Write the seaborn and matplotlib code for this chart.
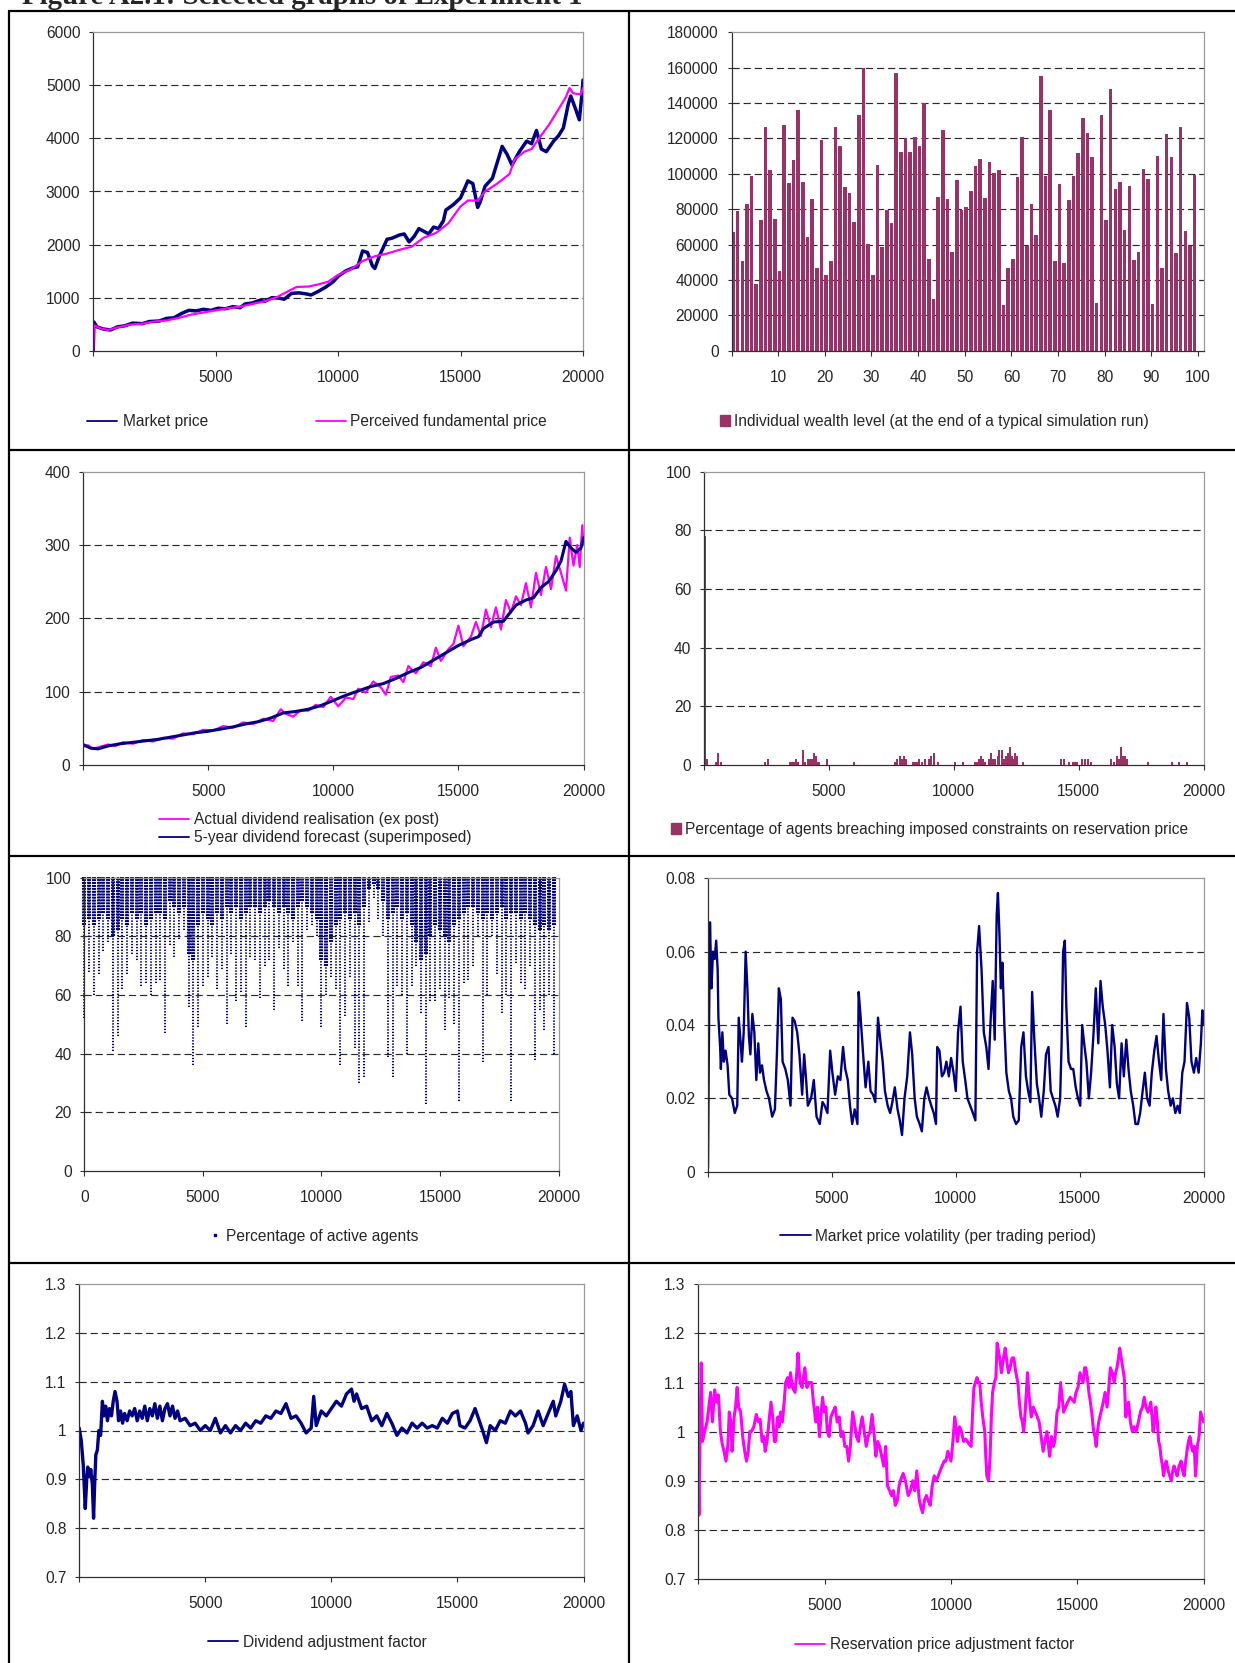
import matplotlib
matplotlib.use("Agg")
import matplotlib.pyplot as plt
from matplotlib.lines import Line2D
from matplotlib.patches import Patch
import seaborn as sns

# ---------------------------------------------------------------- data
# Market price vs perceived fundamental price
price_t = [0, 30, 150, 400, 700, 1000, 1300, 1600, 2000, 2300, 2700, 3000, 3300, 3600,
           3900, 4200, 4500, 4800, 5100, 5400, 5700, 6000, 6200, 6500, 6800, 7000, 7300,
           7600, 7800, 8100, 8400, 8700, 8900, 9200, 9500, 9800, 10000, 10300, 10600,
           10800, 11000, 11200, 11400, 11500, 11700, 12000, 12200, 12500, 12700, 12900,
           13100, 13300, 13500, 13700, 13900, 14100, 14300, 14400, 14700, 15000, 15300,
           15500, 15700, 15800, 16000, 16300, 16500, 16700, 16900, 17100, 17400, 17700,
           17900, 18100, 18300, 18500, 18800, 19000, 19200, 19400, 19500, 19700, 19850,
           19950, 20000]
market_price = [0, 540, 450, 410, 390, 450, 470, 520, 510, 550, 560, 610, 620, 700,
                760, 750, 780, 760, 800, 790, 830, 810, 880, 900, 950, 930, 1000,
                990, 970, 1080, 1090, 1070, 1050, 1120, 1200, 1300, 1400, 1500, 1560,
                1580, 1880, 1850, 1600, 1550, 1800, 2100, 2120, 2180, 2200, 2050,
                2150, 2300, 2250, 2200, 2330, 2300, 2450, 2650, 2750, 2880, 3200,
                3150, 2700, 2800, 3100, 3250, 3550, 3850, 3700, 3500, 3750, 3950,
                3900, 4150, 3800, 3750, 3950, 4050, 4200, 4650, 4800, 4550, 4350,
                4800, 5100]
fund_t = [0, 30, 300, 600, 1000, 1500, 2000, 2500, 3000, 3500, 4000, 4500, 5000, 5500,
          6000, 6500, 7000, 7500, 8000, 8300, 8800, 9200, 9600, 10000, 10500, 11000,
          11500, 12000, 12500, 13000, 13500, 14000, 14500, 15000, 15300, 15700, 16000,
          16500, 17000, 17200, 17600, 17900, 18200, 18600, 19000, 19300, 19450, 19600,
          19900, 20000]
fundamental_price = [0, 480, 420, 390, 440, 490, 510, 550, 570, 620, 680, 720, 760, 800,
                     830, 880, 930, 1010, 1130, 1200, 1210, 1250, 1300, 1430, 1530, 1690,
                     1780, 1830, 1900, 1960, 2130, 2220, 2400, 2720, 2830, 2830, 3000,
                     3150, 3330, 3600, 3750, 3800, 4000, 4250, 4550, 4780, 4950, 4850,
                     4830, 4950]

# Individual wealth of agents 1..100
agent_ids = list(range(1, 101))
wealth = [67000, 79000, 50500, 83000, 99000, 37500, 74000, 126500, 102000, 74500,
          45000, 127500, 95000, 108000, 136000, 95500, 64000, 85500, 46500, 119000,
          43000, 50500, 126500, 116000, 92500, 89000, 72500, 133000, 160000, 60500,
          43000, 105000, 58500, 79500, 72000, 157000, 112500, 120000, 112500, 121000,
          115500, 140000, 52000, 29500, 87000, 125000, 85500, 56000, 96500, 79500,
          81500, 90000, 104500, 108500, 86500, 106500, 100500, 102000, 26000, 46500,
          52000, 98000, 121000, 59000, 83000, 65500, 155500, 99000, 136000, 50500,
          94500, 49500, 85000, 99000, 111500, 131500, 123000, 109500, 27000, 133000,
          74000, 148000, 91500, 95500, 68000, 93000, 51000, 56000, 103000, 97000,
          26500, 110000, 47000, 122500, 109500, 55000, 126500, 67500, 59000, 99500]

# Dividends: realisation and 5-year forecast
div_act_t = [0, 200, 400, 700, 1000, 1300, 1600, 2000, 2400, 2800, 3200, 3600, 4000,
             4400, 4800, 5200, 5600, 6000, 6400, 6800, 7200, 7600, 7900, 8100, 8400,
             8700, 9000, 9300, 9600, 9900, 10200, 10500, 10800, 11000, 11300, 11600,
             11900, 12100, 12300, 12600, 12800, 13000, 13300, 13600, 13900, 14100,
             14300, 14600, 14800, 15000, 15200, 15500, 15700, 15900, 16100, 16300,
             16500, 16700, 16900, 17100, 17300, 17500, 17700, 17900, 18100, 18300,
             18500, 18700, 18900, 19100, 19300, 19450, 19600, 19750, 19850, 19950, 20000]
div_actual = [25, 27, 22, 25, 28, 26, 31, 29, 34, 32, 37, 36, 43,
              42, 48, 47, 53, 51, 58, 56, 63, 60, 76, 70, 66,
              75, 74, 82, 79, 93, 80, 92, 90, 104, 99, 114,
              106, 96, 120, 122, 113, 135, 125, 140, 135, 160,
              142, 158, 165, 190, 162, 175, 195, 176, 212, 188,
              215, 185, 225, 208, 230, 218, 248, 215, 262, 232,
              270, 240, 285, 262, 238, 310, 272, 300, 270, 327, 300]
div_fc_t = [0, 300, 600, 1000, 1500, 2000, 2500, 3000, 3500, 4000, 4500, 5000, 5500,
            6000, 6500, 7000, 7500, 8000, 8500, 9000, 9500, 10000, 10500, 11000, 11500,
            12000, 12500, 13000, 13500, 14000, 14500, 15000, 15500, 15800, 16000, 16400,
            16800, 17000, 17300, 17700, 18000, 18300, 18600, 18900, 19100, 19300, 19500,
            19700, 19900, 20000]
div_forecast = [28, 23, 22, 26, 29, 31, 33, 35, 38, 41, 44, 46, 49,
                52, 56, 59, 64, 71, 73, 76, 81, 88, 95, 101, 107,
                111, 118, 126, 133, 143, 153, 163, 171, 175, 186, 195,
                196, 205, 218, 225, 228, 242, 250, 265, 278, 305, 296,
                290, 296, 310]

# Percentage of agents breaching constraints on reservation price
breach_t = [20, 60, 120, 470, 545, 700, 2450, 2550, 3460, 3540, 3610, 3690, 3780, 3960,
            4050, 4160, 4240, 4310, 4390, 4470, 4550, 4620, 4940, 6000, 7660, 7740, 7850,
            7930, 8020, 8100, 8360, 8440, 8520, 8600, 8710, 8830, 8990, 9100, 9190, 9350,
            10050, 10360, 10860, 10940, 11010, 11090, 11170, 11250, 11400, 11480, 11560,
            11640, 11750, 11820, 11920, 12000, 12070, 12150, 12230, 12310, 12380, 12460,
            12540, 12760, 14290, 14410, 14600, 14760, 14870, 14950, 15140, 15260, 15370,
            15480, 16310, 16420, 16530, 16610, 16700, 16780, 16850, 16930, 17790, 18720,
            19030, 19350]
breach_pct = [25, 78, 2, 1, 4, 1, 1, 2, 1, 1, 1, 2, 1, 5,
              1, 2, 2, 2, 4, 3, 1, 1, 2, 1, 1, 2, 3,
              2, 3, 2, 1, 1, 1, 2, 1, 2, 2, 3, 4, 1,
              1, 1, 1, 1, 2, 3, 2, 1, 2, 4, 2,
              2, 3, 5, 5, 2, 3, 4, 6, 3, 2, 4,
              3, 1, 2, 2, 1, 1, 1, 1, 2, 2, 2,
              1, 2, 1, 3, 2, 6, 3, 3, 2, 1, 1,
              1, 1]

# Percentage of active agents, per block of 200 trading periods:
# lowest observed level and the level above which observations are dense
active_t = list(range(0, 20000, 200))
active_min = [52, 68, 60, 67, 75, 78, 41, 46, 62, 67, 74, 72, 63, 64, 60, 64, 65, 47,
              77, 73, 79, 82, 56, 36, 49, 63, 66, 73, 62, 69, 50, 74, 58, 61, 49, 73,
              72, 59, 70, 72, 55, 76, 69, 63, 78, 63, 51, 82, 84, 80, 49, 60, 66, 62,
              36, 53, 66, 42, 30, 32, 85, 93, 86, 80, 39, 32, 63, 60, 40, 63, 70, 54,
              23, 58, 58, 62, 48, 59, 50, 24, 64, 65, 70, 80, 37, 60, 80, 67, 54, 60,
              24, 71, 64, 62, 70, 38, 55, 48, 60, 40]
active_dense = [84, 86, 84, 86, 88, 86, 80, 82, 86, 84, 88, 86, 88, 84, 86, 88, 88, 86,
                92, 90, 88, 90, 74, 72, 84, 88, 86, 84, 88, 86, 90, 88, 90, 86, 88, 90,
                90, 88, 90, 92, 90, 88, 90, 88, 86, 90, 92, 90, 88, 86, 72, 70, 78, 84,
                86, 88, 86, 88, 84, 90, 96, 98, 96, 92, 86, 88, 90, 86, 88, 84, 78, 72,
                74, 80, 84, 82, 80, 78, 84, 86, 88, 90, 90, 88, 86, 88, 86, 88, 90, 86,
                88, 88, 86, 88, 86, 84, 82, 84, 82, 84]

# Market price volatility
vol_t = [0, 30, 80, 140, 200, 270, 330, 390, 420, 490, 520, 580, 640, 710, 790, 860, 970,
         1080, 1180, 1240, 1320, 1370, 1440, 1520, 1590, 1650, 1710, 1790, 1870, 1950,
         2030, 2100, 2180, 2260, 2360, 2460, 2590, 2700, 2780, 2860, 2940, 3010, 3120,
         3220, 3330, 3410, 3500, 3600, 3690, 3800, 3880, 3960, 4030, 4160, 4270, 4380,
         4510, 4620, 4710, 4820, 4930, 5020, 5130, 5240, 5340, 5450, 5540, 5640, 5730,
         5820, 5920, 6030, 6080, 6150, 6260, 6360, 6470, 6560, 6660, 6750, 6860, 6950,
         7050, 7140, 7250, 7350, 7440, 7540, 7650, 7740, 7830, 7930, 8040, 8150, 8240,
         8340, 8430, 8540, 8630, 8730, 8820, 8920, 9010, 9110, 9200, 9250, 9340, 9440,
         9530, 9620, 9720, 9810, 9910, 10000, 10090, 10190, 10280, 10380, 10470, 10580,
         10690, 10790, 10860, 10940, 11040, 11130, 11230, 11320, 11410, 11490, 11570,
         11650, 11700, 11760, 11820, 11880, 11960, 12040, 12140, 12230, 12320, 12430,
         12540, 12640, 12730, 12830, 12920, 13010, 13080, 13170, 13270, 13360, 13450,
         13550, 13640, 13740, 13830, 13920, 14020, 14110, 14210, 14270, 14330, 14400,
         14460, 14550, 14650, 14740, 14840, 14930, 15020, 15100, 15180, 15270, 15370,
         15460, 15560, 15650, 15750, 15840, 15930, 16030, 16120, 16220, 16310, 16410,
         16500, 16590, 16690, 16780, 16880, 16970, 17060, 17160, 17250, 17350, 17440,
         17540, 17630, 17720, 17820, 17910, 18010, 18100, 18200, 18290, 18380, 18480,
         18570, 18670, 18760, 18860, 18950, 19040, 19140, 19230, 19330, 19420, 19510,
         19610, 19700, 19800, 19890, 19950, 20000]
volatility = [0.001, 0.03, 0.068, 0.05, 0.06, 0.058, 0.063, 0.055, 0.042, 0.034, 0.028,
              0.038, 0.03, 0.033, 0.029, 0.021, 0.02, 0.016, 0.018, 0.042, 0.035, 0.03,
              0.038, 0.06, 0.05, 0.037, 0.032, 0.043, 0.038, 0.025, 0.035, 0.027, 0.029,
              0.025, 0.022, 0.02, 0.015, 0.017, 0.032, 0.05, 0.047, 0.03, 0.028, 0.025,
              0.018, 0.042, 0.041, 0.038, 0.032, 0.021, 0.032, 0.025, 0.018, 0.02, 0.025,
              0.015, 0.013, 0.019, 0.018, 0.016, 0.033, 0.027, 0.021, 0.026, 0.025, 0.034,
              0.028, 0.025, 0.018, 0.013, 0.017, 0.013, 0.049, 0.043, 0.032, 0.023, 0.03,
              0.022, 0.021, 0.019, 0.042, 0.036, 0.03, 0.022, 0.018, 0.016, 0.019, 0.023,
              0.017, 0.014, 0.01, 0.02, 0.026, 0.038, 0.032, 0.02, 0.015, 0.013, 0.011,
              0.02, 0.023, 0.02, 0.018, 0.016, 0.013, 0.034, 0.033, 0.026, 0.027, 0.03,
              0.026, 0.031, 0.027, 0.022, 0.038, 0.045, 0.03, 0.025, 0.02, 0.018, 0.016,
              0.014, 0.06, 0.067, 0.055, 0.038, 0.034, 0.028, 0.042, 0.052, 0.036, 0.07,
              0.076, 0.065, 0.05, 0.057, 0.04, 0.027, 0.022, 0.02, 0.015, 0.013, 0.014,
              0.034, 0.038, 0.026, 0.022, 0.019, 0.049, 0.036, 0.024, 0.02, 0.015, 0.022,
              0.032, 0.034, 0.022, 0.02, 0.018, 0.015, 0.02, 0.035, 0.06, 0.063, 0.045,
              0.03, 0.028, 0.028, 0.023, 0.02, 0.018, 0.04, 0.035, 0.03, 0.02, 0.027,
              0.038, 0.05, 0.035, 0.052, 0.045, 0.04, 0.033, 0.023, 0.04, 0.034, 0.024,
              0.02, 0.035, 0.026, 0.036, 0.028, 0.022, 0.018, 0.013, 0.013, 0.016, 0.022,
              0.027, 0.02, 0.018, 0.027, 0.033, 0.037, 0.03, 0.025, 0.043, 0.028, 0.022,
              0.018, 0.02, 0.016, 0.018, 0.016, 0.027, 0.03, 0.046, 0.042, 0.03, 0.027,
              0.031, 0.027, 0.035, 0.044, 0.04]

# Dividend adjustment factor
divadj_t = [0, 80, 160, 240, 300, 340, 400, 460, 520, 570, 620, 660, 720, 780, 850, 920,
            980, 1050, 1120, 1200, 1280, 1350, 1420, 1500, 1560, 1640, 1720, 1800, 1900,
            2000, 2100, 2200, 2300, 2400, 2500, 2600, 2700, 2800, 2900, 3000, 3100, 3200,
            3300, 3400, 3500, 3600, 3700, 3800, 3900, 4000, 4200, 4400, 4600, 4800, 5000,
            5200, 5400, 5600, 5800, 6000, 6200, 6400, 6600, 6800, 7000, 7200, 7400, 7600,
            7800, 8000, 8200, 8400, 8600, 8800, 9000, 9200, 9300, 9400, 9600, 9800, 10000,
            10200, 10400, 10600, 10800, 10900, 11000, 11200, 11400, 11600, 11800, 12000,
            12200, 12400, 12600, 12800, 13000, 13200, 13400, 13600, 13800, 14000, 14200,
            14400, 14600, 14800, 15000, 15100, 15300, 15500, 15700, 15800, 16000, 16150,
            16300, 16500, 16700, 16900, 17100, 17300, 17500, 17700, 17800, 18000, 18200,
            18400, 18600, 18800, 18900, 19100, 19250, 19400, 19500, 19600, 19750, 19900,
            20000]
div_adjust = [1.005, 0.98, 0.93, 0.84, 0.9, 0.925, 0.905, 0.92, 0.89, 0.82, 0.9, 0.95,
              0.96, 1.0, 0.99, 1.06, 1.03, 1.05, 1.02, 1.045, 1.03, 1.06, 1.08, 1.06,
              1.02, 1.04, 1.015, 1.035, 1.02, 1.04, 1.03, 1.045, 1.02, 1.04, 1.025, 1.05,
              1.02, 1.045, 1.03, 1.055, 1.025, 1.05, 1.02, 1.045, 1.055, 1.03, 1.05, 1.025,
              1.04, 1.02, 1.025, 1.01, 1.015, 1.0, 1.01, 1.0, 1.025, 0.995, 1.01, 0.995,
              1.01, 1.0, 1.015, 1.005, 1.02, 1.015, 1.03, 1.025, 1.04, 1.035, 1.055, 1.025,
              1.03, 1.015, 0.995, 1.005, 1.07, 1.01, 1.04, 1.03, 1.045, 1.06, 1.05, 1.075,
              1.085, 1.06, 1.075, 1.045, 1.05, 1.02, 1.03, 1.01, 1.035, 1.015, 0.99, 1.005,
              0.995, 1.015, 1.005, 1.015, 1.005, 1.01, 1.005, 1.025, 1.015, 1.035, 1.04,
              1.01, 1.005, 1.02, 1.045, 1.03, 1.0, 0.975, 1.01, 1.0, 1.02, 1.015, 1.04,
              1.03, 1.04, 1.015, 0.995, 1.01, 1.04, 1.01, 1.035, 1.06, 1.03, 1.06, 1.095,
              1.07, 1.08, 1.01, 1.03, 1.0, 1.015]

# Reservation price adjustment factor
resadj_t = [0, 30, 70, 120, 170, 250, 350, 420, 490, 560, 650, 730, 800, 880, 950, 1020,
            1100, 1170, 1230, 1290, 1340, 1420, 1480, 1540, 1600, 1680, 1760, 1840, 1910,
            1980, 2040, 2100, 2200, 2300, 2380, 2450, 2530, 2600, 2650, 2720, 2800, 2880,
            2950, 3010, 3060, 3150, 3200, 3260, 3330, 3400, 3460, 3540, 3600, 3650, 3730,
            3830, 3900, 3950, 4030, 4110, 4160, 4220, 4300, 4380, 4490, 4560, 4650, 4720,
            4800, 4870, 4920, 4990, 5050, 5110, 5180, 5250, 5330, 5420, 5500, 5580, 5650,
            5730, 5800, 5880, 5950, 6020, 6110, 6180, 6260, 6340, 6420, 6490, 6570, 6650,
            6720, 6800, 6880, 6950, 7030, 7100, 7180, 7260, 7340, 7420, 7490, 7570, 7650,
            7720, 7800, 7880, 7950, 8000, 8110, 8200, 8310, 8400, 8490, 8570, 8650, 8700,
            8750, 8820, 8880, 8950, 9030, 9100, 9180, 9260, 9340, 9420, 9500, 9570, 9650,
            9730, 9800, 9880, 9940, 10000, 10080, 10150, 10200, 10260, 10340, 10420,
            10500, 10580, 10650, 10720, 10800, 10860, 10910, 10970, 11030, 11090, 11140,
            11200, 11260, 11340, 11380, 11420, 11490, 11550, 11600, 11650, 11720, 11780,
            11830, 11900, 12000, 12080, 12150, 12220, 12280, 12340, 12420, 12490, 12570,
            12650, 12710, 12770, 12830, 12880, 12950, 13030, 13100, 13180, 13260, 13340,
            13420, 13490, 13570, 13650, 13720, 13800, 13860, 13910, 13980, 14050, 14110,
            14200, 14270, 14340, 14400, 14460, 14540, 14620, 14720, 14800, 14880, 14950,
            15030, 15110, 15170, 15230, 15290, 15340, 15400, 15460, 15520, 15570, 15650,
            15700, 15750, 15800, 15850, 15940, 16030, 16100, 16180, 16250, 16310, 16390,
            16460, 16520, 16570, 16630, 16680, 16740, 16800, 16860, 16920, 16980, 17030,
            17100, 17180, 17250, 17330, 17420, 17500, 17580, 17650, 17720, 17800, 17860,
            17910, 17960, 18000, 18060, 18110, 18170, 18220, 18270, 18310, 18370, 18420,
            18470, 18520, 18600, 18660, 18720, 18780, 18830, 18900, 18950, 19030, 19110,
            19170, 19230, 19290, 19340, 19400, 19460, 19520, 19570, 19630, 19680, 19720,
            19750, 19820, 19880, 19940, 20000]
res_adjust = [0.93, 0.83, 1.0, 1.14, 0.98, 1.0, 1.02, 1.05, 1.08, 1.02, 1.085, 1.06, 1.075,
              1.0, 0.975, 0.96, 0.94, 0.97, 1.04, 1.02, 0.96, 1.03, 1.05, 1.09, 1.05, 1.04,
              0.99, 0.96, 0.94, 0.96, 1.0, 1.0, 1.01, 1.035, 1.02, 1.025, 0.98, 0.99, 0.96,
              0.98, 1.02, 1.06, 1.03, 0.98, 0.98, 1.03, 1.01, 1.04, 1.02, 1.06, 1.1, 1.11,
              1.09, 1.12, 1.09, 1.08, 1.12, 1.16, 1.1, 1.09, 1.11, 1.13, 1.09, 1.1, 1.1,
              1.06, 1.02, 1.05, 0.99, 1.04, 1.07, 1.04, 1.05, 1.0, 0.99, 1.03, 1.04, 1.05,
              1.02, 1.03, 0.99, 1.0, 0.97, 0.97, 0.94, 0.97, 1.04, 1.02, 0.99, 0.98, 1.01,
              1.03, 1.0, 0.97, 0.99, 1.0, 1.035, 1.0, 0.95, 0.98, 0.97, 0.95, 0.93, 0.97,
              0.89, 0.88, 0.87, 0.88, 0.85, 0.86, 0.89, 0.9, 0.915, 0.9, 0.87, 0.88, 0.9,
              0.88, 0.92, 0.89, 0.86, 0.845, 0.835, 0.86, 0.87, 0.86, 0.85, 0.89, 0.91,
              0.9, 0.91, 0.92, 0.93, 0.94, 0.94, 0.96, 0.95, 0.94, 0.98, 1.03, 1.01, 0.98,
              1.01, 1.0, 0.98, 0.985, 0.98, 0.975, 0.97, 1.04, 1.09, 1.1, 1.11, 1.1, 1.1,
              1.06, 1.03, 1.0, 0.95, 0.91, 0.9, 0.95, 1.03, 1.08, 1.1, 1.11, 1.18, 1.16,
              1.12, 1.15, 1.17, 1.14, 1.12, 1.13, 1.15, 1.15, 1.12, 1.1, 1.06, 1.03, 1.02,
              1.0, 1.05, 1.12, 1.07, 1.03, 1.05, 1.04, 1.03, 1.02, 0.99, 0.96, 0.98, 1.0,
              0.97, 0.95, 0.99, 0.97, 0.98, 1.04, 1.05, 1.1, 1.07, 1.04, 1.05, 1.06, 1.07,
              1.065, 1.06, 1.08, 1.09, 1.12, 1.11, 1.1, 1.13, 1.13, 1.11, 1.08, 1.06, 1.04,
              1.0, 0.99, 0.97, 1.0, 1.02, 1.04, 1.06, 1.08, 1.05, 1.09, 1.13, 1.12, 1.1,
              1.12, 1.13, 1.15, 1.17, 1.15, 1.13, 1.11, 1.03, 1.05, 1.06, 1.02, 1.0, 1.01,
              1.0, 1.02, 1.04, 1.05, 1.07, 1.05, 1.04, 1.05, 1.06, 1.03, 1.0, 1.02, 1.05,
              1.02, 0.98, 0.97, 0.95, 0.93, 0.91, 0.93, 0.94, 0.92, 0.91, 0.9, 0.92, 0.93,
              0.92, 0.91, 0.93, 0.94, 0.92, 0.91, 0.94, 0.96, 0.98, 0.99, 0.97, 0.96, 0.97,
              0.91, 0.94, 0.97, 0.99, 1.04, 1.03, 1.02]

# ---------------------------------------------------------------- style
NAVY = "#000080"
MAGENTA = "#FF00FF"
PLUM = "#993366"
GRID = "#2a2a2a"
FS = 11.2

sns.set_theme(style="ticks")
plt.rcParams["font.family"] = ["Liberation Sans", "DejaVu Sans"]
plt.rcParams["lines.scale_dashes"] = False
plt.rcParams["axes.linewidth"] = 0.8

W, H = 1235, 1663
fig = plt.figure(figsize=(W / 100, H / 100), dpi=100)
fig.patch.set_facecolor("white")


def panel(left, top, right, bottom):
    return fig.add_axes([left / W, 1 - bottom / H, (right - left) / W, (bottom - top) / H])


def dress(ax, ylim, yticks, ylabels, xlim, xticks, xlabels, grid_vals):
    ax.set_xlim(xlim)
    ax.set_ylim(ylim)
    ax.set_yticks(yticks, ylabels)
    ax.set_xticks(xticks, xlabels)
    ax.set_xlabel("")
    ax.set_ylabel("")
    ax.grid(False)
    ax.set_facecolor("white")
    for v in grid_vals:
        ax.axhline(v, color=GRID, lw=0.85, ls=(0, (5.2, 2.8)), zorder=0.8)
    for s in ("left", "bottom"):
        ax.spines[s].set_color("#303030")
        ax.spines[s].set_linewidth(0.9)
    for s in ("top", "right"):
        ax.spines[s].set_visible(True)
        ax.spines[s].set_color("#9a9a9a")
        ax.spines[s].set_linewidth(0.9)
    ax.tick_params(axis="y", which="major", left=True, right=False, direction="out",
                   length=2.9, width=0.8, pad=6.3, labelsize=FS, color="#303030")
    ax.tick_params(axis="x", which="major", bottom=True, top=False, direction="out",
                   length=3.8, width=0.8, pad=10.2, labelsize=FS, color="#303030")


def legend_at(handles, labels, x, y, hl, pad, hh=0.7, spacing=0.15):
    fig.legend(handles, labels, loc="center left", bbox_to_anchor=(x / W, 1 - y / H),
               frameon=False, borderpad=0, borderaxespad=0, handlelength=hl,
               handletextpad=pad, handleheight=hh, labelspacing=spacing, fontsize=FS)


t_ticks = [0, 5000, 10000, 15000, 20000]
t_labels = ["", "5000", "10000", "15000", "20000"]

# ---------------------------------------------------------------- panel 1
ax1 = panel(93.2, 32.3, 583, 350.7)
sns.lineplot(x=price_t, y=market_price, ax=ax1, color=NAVY, lw=2.5, estimator=None)
sns.lineplot(x=fund_t, y=fundamental_price, ax=ax1, color=MAGENTA, lw=1.6, estimator=None)
dress(ax1, (0, 6000), [0, 1000, 2000, 3000, 4000, 5000, 6000],
      ["0", "1000", "2000", "3000", "4000", "5000", "6000"],
      (0, 20000), t_ticks, t_labels, [1000, 2000, 3000, 4000, 5000])
legend_at([Line2D([], [], color=NAVY, lw=1.3)], ["Market price"], 87, 421.5, 1.9, 0.4)
legend_at([Line2D([], [], color=MAGENTA, lw=1.3)], ["Perceived fundamental price"],
          316, 421.5, 1.9, 0.3)

# ---------------------------------------------------------------- panel 2
ax2 = panel(731.5, 32.3, 1203.6, 350.7)
sns.barplot(x=agent_ids, y=wealth, ax=ax2, color=PLUM, saturation=1, width=0.74,
            linewidth=0)
dress(ax2, (0, 180000), list(range(0, 180001, 20000)),
      [str(v) for v in range(0, 180001, 20000)],
      (-0.3, 100.9), [v - 0.3 for v in range(0, 101, 10)],
      [""] + [str(v) for v in range(10, 101, 10)],
      list(range(20000, 160001, 20000)))
legend_at([Patch(color=PLUM)], ["Individual wealth level (at the end of a typical simulation run)"],
          719.5, 421.5, 0.7, 0.25)

# ---------------------------------------------------------------- panel 3
ax3 = panel(83, 471.7, 583.5, 765)
sns.lineplot(x=div_act_t, y=div_actual, ax=ax3, color=MAGENTA, lw=1.6, estimator=None)
sns.lineplot(x=div_fc_t, y=div_forecast, ax=ax3, color=NAVY, lw=2.2, estimator=None)
dress(ax3, (0, 400), [0, 100, 200, 300, 400], ["0", "100", "200", "300", "400"],
      (0, 20000), t_ticks, t_labels, [100, 200, 300])
legend_at([Line2D([], [], color=MAGENTA, lw=1.3), Line2D([], [], color=NAVY, lw=1.3)],
          ["Actual dividend realisation (ex post)", "5-year dividend forecast (superimposed)"],
          159, 828.5, 1.92, 0.35, spacing=0.2)

# ---------------------------------------------------------------- panel 4
ax4 = panel(704, 471.7, 1203.6, 765)
ax4.bar(breach_t, breach_pct, width=80, color=PLUM, linewidth=0, zorder=2)
dress(ax4, (0, 100), [0, 20, 40, 60, 80, 100], ["0", "20", "40", "60", "80", "100"],
      (0, 20000), t_ticks, t_labels, [20, 40, 60, 80])
legend_at([Patch(color=PLUM)],
          ["Percentage of agents breaching imposed constraints on reservation price"],
          670.6, 829.7, 0.7, 0.25)

# ---------------------------------------------------------------- panel 5
ax5 = panel(84.4, 877.7, 558.5, 1171)
ax5.vlines(active_t, active_min, 100.4, colors=NAVY, linewidth=1.4,
           linestyles=[(0, (0.95, 1.16))], zorder=2, clip_on=False)
ax5.vlines(active_t, active_dense, 100.4, colors=NAVY, linewidth=2.9,
           linestyles=[(0, (1.4, 0.71))], zorder=2, clip_on=False)
dress(ax5, (0, 100), [0, 20, 40, 60, 80, 100], ["0", "20", "40", "60", "80", "100"],
      (0, 20000), t_ticks, ["0", "5000", "10000", "15000", "20000"], [20, 40, 60, 80])
legend_at([Line2D([], [], ls="none", marker="s", markersize=1.8, color=NAVY)],
          ["Percentage of active agents"], 210, 1236, 0.7, 0.3)

# ---------------------------------------------------------------- panel 6
ax6 = panel(708, 878.3, 1203.6, 1171.7)
sns.lineplot(x=vol_t, y=volatility, ax=ax6, color=NAVY, lw=1.7, estimator=None)
dress(ax6, (0, 0.08), [0, 0.02, 0.04, 0.06, 0.08], ["0", "0.02", "0.04", "0.06", "0.08"],
      (0, 20000), t_ticks, t_labels, [0.02, 0.04, 0.06])
legend_at([Line2D([], [], color=NAVY, lw=1.3)], ["Market price volatility (per trading period)"],
          780, 1236, 2.0, 0.25)

# ---------------------------------------------------------------- panel 7
adj_ticks = [0.7, 0.8, 0.9, 1.0, 1.1, 1.2, 1.3]
adj_labels = ["0.7", "0.8", "0.9", "1", "1.1", "1.2", "1.3"]
ax7 = panel(79.2, 1284.3, 583.5, 1576.7)
sns.lineplot(x=divadj_t, y=div_adjust, ax=ax7, color=NAVY, lw=2.4, estimator=None)
dress(ax7, (0.7, 1.3), adj_ticks, adj_labels, (0, 20000), t_ticks, t_labels,
      [0.8, 0.9, 1.0, 1.1, 1.2])
legend_at([Line2D([], [], color=NAVY, lw=1.3)], ["Dividend adjustment factor"],
          208, 1642, 1.95, 0.3)

# ---------------------------------------------------------------- panel 8
ax8 = panel(698.2, 1284.3, 1203.6, 1579)
sns.lineplot(x=resadj_t, y=res_adjust, ax=ax8, color=MAGENTA, lw=2.2, estimator=None)
dress(ax8, (0.7, 1.3), adj_ticks, adj_labels, (0, 20000), t_ticks, t_labels,
      [0.8, 0.9, 1.0, 1.1, 1.2])
legend_at([Line2D([], [], color=MAGENTA, lw=1.3)], ["Reservation price adjustment factor"],
          795, 1644.5, 1.95, 0.3)

# ---------------------------------------------------------------- table frame and heading
def rule(x0, y0, x1, y1):
    fig.add_artist(Line2D([x0 / W, x1 / W], [1 - y0 / H, 1 - y1 / H],
                          transform=fig.transFigure, color="black", lw=1.6))


rule(9, 11, W, 11)
rule(9, 11, 9, H)
rule(629, 11, 629, H)
for yy in (450, 856, 1263):
    rule(9, yy, W, yy)

fig.text(22 / W, 1 - 4.5 / H, "Figure A2.1: Selected graphs of Experiment 1",
         fontfamily=["Liberation Serif", "DejaVu Serif"], fontweight="bold",
         fontsize=20.8, va="baseline", ha="left")

fig.savefig("out.png", dpi=100, facecolor="white")
